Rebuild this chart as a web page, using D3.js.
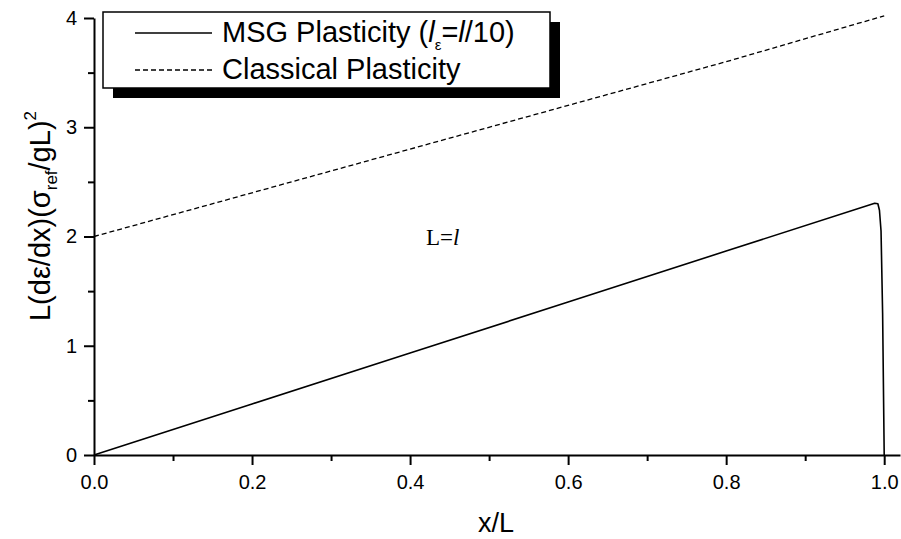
<!DOCTYPE html>
<html>
<head>
<meta charset="utf-8">
<script src="https://cdn.jsdelivr.net/npm/d3@7"></script>
<style>
  body { margin: 0; background: #fff; }
  svg { display: block; font-family: "Liberation Sans", Arial, sans-serif; }
</style>
</head>
<body>
<svg id="chart" width="901" height="539"></svg>
<script>
// MSG plasticity curve (x/L, value)
var msgX = [0, 0.2, 0.4, 0.6, 0.8, 0.988, 0.992, 0.994, 0.996, 0.998, 1.0];
var msgY = [0, 0.467, 0.933, 1.4, 1.867, 2.305, 2.3, 2.24, 2.05, 1.3, 0];
// classical plasticity line
var classX = [0, 0.2, 0.4, 0.6, 0.8, 1.0];
var classY = [2.0, 2.4, 2.8, 3.2, 3.6, 4.02];
var xTicks = [0, 0.2, 0.4, 0.6, 0.8, 1.0];
var xMinor = [0.1, 0.3, 0.5, 0.7, 0.9];
var yTicks = [0, 1, 2, 3, 4];
var yMinor = [0.5, 1.5, 2.5, 3.5];

var svg = d3.select('#chart');
var xScale = d3.scaleLinear().domain([0, 1.02]).range([94, 900]);
var yScale = d3.scaleLinear().domain([0, 4]).range([455, 18]);

//minor ticks first, then the major axes on top
svg.append('g')
    .attr('transform', 'translate(0,' + yScale(0) + ')')
    .call(d3.axisBottom(xScale).tickValues(xMinor).tickSize(6).tickFormat(''))
    .call(function(g) { g.select('.domain').remove(); });
svg.append('g')
    .attr('transform', 'translate(' + xScale(0) + ',0)')
    .call(d3.axisLeft(yScale).tickValues(yMinor).tickSize(6).tickFormat(''))
    .call(function(g) { g.select('.domain').remove(); });

svg.append('g')
    .attr('transform', 'translate(0,' + yScale(0) + ')')
    .call(d3.axisBottom(xScale).tickValues(xTicks).tickSize(10).tickSizeOuter(0).tickPadding(10)
        .tickFormat(d3.format('.1f')));
svg.append('g')
    .attr('transform', 'translate(' + xScale(0) + ',0)')
    .call(d3.axisLeft(yScale).tickValues(yTicks).tickSize(10).tickSizeOuter(0).tickPadding(7)
        .tickFormat(d3.format('d')));

svg.selectAll('.tick line').attr('stroke', '#000').attr('stroke-width', 2);
svg.selectAll('.domain').attr('stroke', '#000').attr('stroke-width', 2);
svg.selectAll('.tick text').attr('font-size', 20).attr('fill', '#000')
    .attr('font-family', '"Liberation Sans", Arial, sans-serif');

var line = d3.line()
    .x(function(d) { return xScale(d[0]); })
    .y(function(d) { return yScale(d[1]); });

svg.append('path')
    .datum(d3.zip(classX, classY))
    .attr('d', line)
    .attr('fill', 'none')
    .attr('stroke', '#000')
    .attr('stroke-width', 1.3)
    .attr('stroke-dasharray', '5,3');

svg.append('path')
    .datum(d3.zip(msgX, msgY))
    .attr('d', line)
    .attr('fill', 'none')
    .attr('stroke', '#000')
    .attr('stroke-width', 1.6)
    .attr('stroke-linejoin', 'round');

// axis titles
svg.append('text')
    .attr('x', 496).attr('y', 532)
    .attr('text-anchor', 'middle')
    .attr('font-size', 27)
    .text('x/L');

var ylab = svg.append('text')
    .attr('transform', 'translate(50,216) rotate(-90)')
    .attr('text-anchor', 'middle')
    .attr('font-size', 29);
ylab.append('tspan').text('L(dε/dx)(σ');
ylab.append('tspan').attr('font-size', 17).attr('dy', 7).text('ref');
ylab.append('tspan').attr('dy', -7).text('/gL)');
ylab.append('tspan').attr('font-size', 17).attr('dy', -14).text('2');

// annotation
var ann = svg.append('text')
    .attr('x', 426).attr('y', 245)
    .attr('font-family', '"Liberation Serif", "Times New Roman", serif')
    .attr('font-size', 23);
ann.append('tspan').text('L=');
ann.append('tspan').attr('font-style', 'italic').text('l');

// legend with drop shadow
var legend = svg.append('g');
legend.append('rect')
    .attr('x', 113).attr('y', 22).attr('width', 447).attr('height', 76)
    .attr('fill', '#000');
legend.append('rect')
    .attr('x', 103).attr('y', 12).attr('width', 447).attr('height', 76)
    .attr('fill', '#fff').attr('stroke', '#000').attr('stroke-width', 1.5);

legend.append('line')
    .attr('x1', 135).attr('x2', 212).attr('y1', 33).attr('y2', 33)
    .attr('stroke', '#000').attr('stroke-width', 1.3);
legend.append('line')
    .attr('x1', 135).attr('x2', 212).attr('y1', 70).attr('y2', 70)
    .attr('stroke', '#000').attr('stroke-width', 1.3).attr('stroke-dasharray', '5,3');

var t1 = legend.append('text').attr('x', 222).attr('y', 42).attr('font-size', 29);
t1.append('tspan').text('MSG Plasticity (');
t1.append('tspan').attr('font-style', 'italic').text('l');
t1.append('tspan').attr('font-size', 15).attr('dy', 8).text('ε');
t1.append('tspan').attr('dy', -8).text('=');
t1.append('tspan').attr('font-style', 'italic').text('l');
t1.append('tspan').text('/10)');

legend.append('text').attr('x', 222).attr('y', 79).attr('font-size', 29)
    .text('Classical Plasticity');
</script>
</body>
</html>
